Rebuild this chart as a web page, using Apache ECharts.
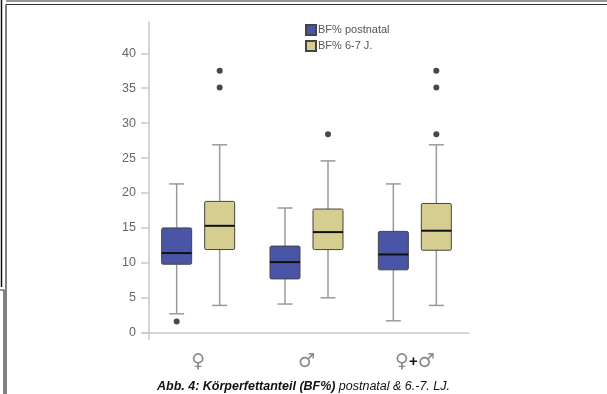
<!DOCTYPE html>
<html>
<head>
<meta charset="utf-8">
<script src="https://cdn.jsdelivr.net/npm/echarts@6/dist/echarts.min.js"></script>
<style>
  html, body { margin: 0; padding: 0; background: #fff; }
  #chart { width: 607px; height: 394px; }
</style>
</head>
<body>
<div id="chart"></div>
<script>
// Groups on the x axis
const categories = ['♀', '♂', '♀+♂'];

// Box statistics per group: [lower whisker, Q1, median, Q3, upper whisker]
const postnatalStats = [
  [2.7, 9.8, 11.4, 15.0, 21.3],
  [4.1, 7.7, 10.1, 12.4, 17.85],
  [1.7, 9.0, 11.2, 14.5, 21.3]
];
const age67Stats = [
  [3.9, 11.9, 15.3, 18.8, 26.9],
  [5.0, 11.9, 14.4, 17.7, 24.6],
  [3.9, 11.8, 14.6, 18.5, 26.9]
];

// Outliers: [group, value]
const postnatalOutliers = [['♀', 1.6]];
const age67Outliers = [
  ['♀', 37.5], ['♀', 35.1],
  ['♂', 28.4],
  ['♀+♂', 37.5], ['♀+♂', 35.1], ['♀+♂', 28.4]
];

const yTicks = [0, 5, 10, 15, 20, 25, 30, 35, 40];
const seriesNames = ['BF% postnatal', 'BF% 6-7 J.'];

const BLUE = '#4b55a5';
const KHAKI = '#d5ce90';

function boxRenderer(offset, fill) {
  return function (params, api) {
    const idx = api.value(0);
    const x = api.coord([idx, 0])[0] + offset;
    const y = [1, 2, 3, 4, 5].map(d => api.coord([idx, api.value(d)])[1]);
    const half = 15, cap = 7.5;
    const whisker = { stroke: '#9a9a9a', lineWidth: 1.5 };
    return {
      type: 'group',
      children: [
        { type: 'line', shape: { x1: x, y1: y[4], x2: x, y2: y[3] }, style: whisker },
        { type: 'line', shape: { x1: x, y1: y[1], x2: x, y2: y[0] }, style: whisker },
        { type: 'line', shape: { x1: x - cap, y1: y[4], x2: x + cap, y2: y[4] }, style: whisker },
        { type: 'line', shape: { x1: x - cap, y1: y[0], x2: x + cap, y2: y[0] }, style: whisker },
        {
          type: 'rect',
          shape: { x: x - half, y: y[3], width: half * 2, height: y[1] - y[3], r: 1.5 },
          style: { fill: fill, stroke: '#444', lineWidth: 1 }
        },
        {
          type: 'line',
          shape: { x1: x - half, y1: y[2], x2: x + half, y2: y[2] },
          style: { stroke: '#111', lineWidth: 2 }
        }
      ]
    };
  };
}

const chart = echarts.init(document.getElementById('chart'), null, { renderer: 'canvas' });

const frame = { stroke: '#333', lineWidth: 1.2 };

chart.setOption({
  animation: false,
  backgroundColor: '#fff',
  textStyle: { fontFamily: 'Liberation Sans' },
  grid: { left: 144, right: 138, top: 21.9, bottom: 54.7 },
  legend: {
    orient: 'vertical',
    left: 300,
    top: 19,
    itemWidth: 10,
    itemHeight: 10,
    itemGap: 4,
    icon: 'rect',
    data: seriesNames,
    textStyle: { fontSize: 11, color: '#555', padding: [0, 0, 0, -3] }
  },
  xAxis: {
    type: 'category',
    data: categories,
    axisLine: { lineStyle: { color: '#c8c8c8', width: 1.5 } },
    axisTick: { alignWithLabel: true, length: 10, lineStyle: { color: '#c8c8c8', width: 1.5 } },
    axisLabel: {
      margin: 13,
      formatter: v => v.split('+').map(s => '{s|' + s + '}').join('{p|+}'),
      rich: {
        s: { fontFamily: 'DejaVu Sans', fontSize: 19, color: '#8a8a8a' },
        p: { fontFamily: 'Liberation Sans', fontSize: 15, fontWeight: 'bold', color: '#111' }
      }
    }
  },
  yAxis: {
    type: 'value',
    min: -0.95,
    max: 44.5,
    offset: -5,
    splitLine: { show: false },
    axisLine: { show: true, lineStyle: { color: '#c8c8c8', width: 1.5 } },
    axisTick: { show: true, length: 8, customValues: yTicks, lineStyle: { color: '#c8c8c8', width: 1.5 } },
    axisLabel: { customValues: yTicks, margin: 13, fontSize: 12.5, color: '#666' }
  },
  series: [
    {
      name: seriesNames[0],
      type: 'custom',
      renderItem: boxRenderer(-21.5, BLUE),
      itemStyle: { color: BLUE, borderColor: '#444', borderWidth: 1 },
      encode: { x: 0, y: [1, 2, 3, 4, 5] },
      data: postnatalStats.map((s, i) => [i].concat(s)),
      z: 2
    },
    {
      name: seriesNames[1],
      type: 'custom',
      renderItem: boxRenderer(21.5, KHAKI),
      itemStyle: { color: KHAKI, borderColor: '#444', borderWidth: 1 },
      encode: { x: 0, y: [1, 2, 3, 4, 5] },
      data: age67Stats.map((s, i) => [i].concat(s)),
      z: 2
    },
    {
      name: seriesNames[0] + ' Ausreißer',
      type: 'scatter',
      data: postnatalOutliers,
      symbol: 'circle',
      symbolSize: 6,
      symbolOffset: [-21.5, 0],
      itemStyle: { color: '#1a1a1a' },
      z: 3
    },
    {
      name: seriesNames[1] + ' Ausreißer',
      type: 'scatter',
      data: age67Outliers,
      symbol: 'circle',
      symbolSize: 6,
      symbolOffset: [21.5, 0],
      itemStyle: { color: '#1a1a1a' },
      z: 3
    }
  ],
  graphic: [
    // page frame lines
    { type: 'line', shape: { x1: 1.5, y1: 0, x2: 1.5, y2: 287 }, style: { stroke: '#111', lineWidth: 1.5 } },
    { type: 'polyline', shape: { points: [[0, 290], [4, 290], [4, 394]] }, style: { stroke: '#333', lineWidth: 1.2, fill: null } },
    { type: 'line', shape: { x1: 6, y1: 4.5, x2: 6, y2: 394 }, style: { stroke: '#555', lineWidth: 1.5 } },
    { type: 'line', shape: { x1: 6, y1: 1, x2: 607, y2: 1 }, style: frame },
    { type: 'line', shape: { x1: 6, y1: 4.5, x2: 607, y2: 4.5 }, style: frame },
    {
      type: 'text',
      left: 'center',
      top: 380,
      style: {
        text: '{b|Abb. 4: Körperfettanteil (BF%)} {i|postnatal & 6.-7. LJ.}',
        rich: {
          b: { fontFamily: 'Liberation Sans', fontSize: 12.5, fontWeight: 'bold', fontStyle: 'italic', fill: '#111' },
          i: { fontFamily: 'Liberation Sans', fontSize: 12.5, fontStyle: 'italic', fill: '#111' }
        }
      }
    }
  ]
});
</script>
</body>
</html>
